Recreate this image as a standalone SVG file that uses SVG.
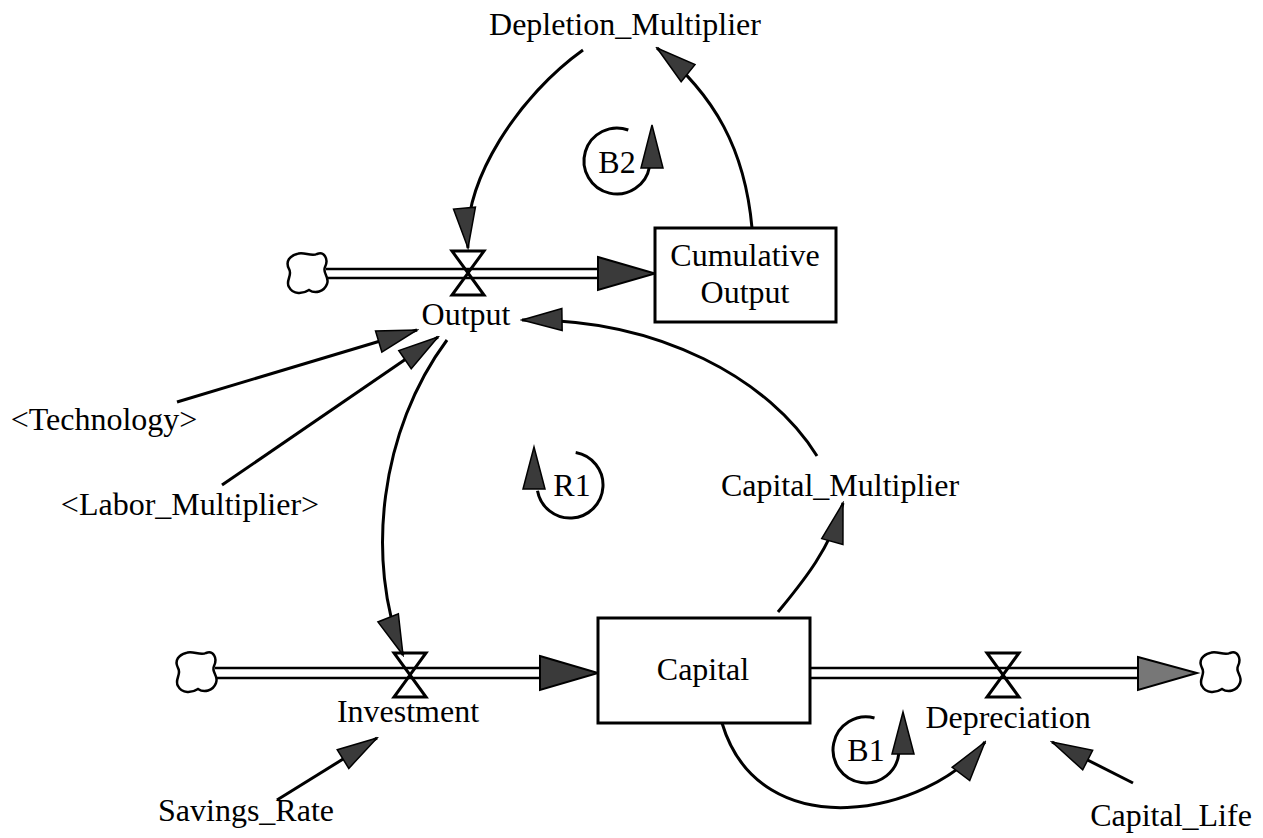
<svg xmlns="http://www.w3.org/2000/svg" width="1263" height="838" viewBox="0 0 1263 838">
<style>
text{font-family:"Liberation Serif","Times New Roman",serif;font-size:32px;fill:#000}
.lnk{fill:none;stroke:#000;stroke-width:3}
.pipe{stroke:#000;stroke-width:2.5}
.valve{fill:none;stroke:#000;stroke-width:3;stroke-linejoin:miter}
.box{fill:#fff;stroke:#000;stroke-width:3}
.ah{fill:#3a3a3a;stroke:#000;stroke-width:1.5}
.fah{fill:#3a3a3a;stroke:#000;stroke-width:2}
.cloud{fill:#fff;stroke:#000;stroke-width:2.5}
.loop{fill:none;stroke:#000;stroke-width:3}
</style>
<defs>
<marker id="arr" viewBox="-42 -13 44 26" refX="0" refY="0" markerWidth="44" markerHeight="26" markerUnits="userSpaceOnUse" orient="auto">
<path d="M0,0 L-40,-11 L-40,11 Z" class="ah"/>
</marker>
<path id="cloudShape" d="M-10,-19 C-4,-22 4,-16 10,-19 C17,-22 22,-14 18,-6 C15,0 23,4 20,11 C17,19 8,21 2,17 C-4,21 -14,22 -18,14 C-22,8 -14,2 -18,-4 C-22,-12 -17,-17 -10,-19 Z"/>
<path id="valveShape" d="M-16,-22 L16,-22 L0,0 Z M0,0 L16,22 L-16,22 Z"/>
</defs>
<rect width="1263" height="838" fill="#fff"/>

<g id="connectors">
<line class="pipe" x1="326" y1="269" x2="600" y2="269"/>
<line class="pipe" x1="326" y1="278" x2="600" y2="278"/>
<path class="fah" d="M598,257 L655,273.5 L598,290 Z"/>
<line class="pipe" x1="215" y1="668" x2="542" y2="668"/>
<line class="pipe" x1="215" y1="678" x2="542" y2="678"/>
<path class="fah" d="M540,656 L598,673 L540,690 Z"/>
<line class="pipe" x1="810" y1="668" x2="1140" y2="668"/>
<line class="pipe" x1="810" y1="678" x2="1140" y2="678"/>
<path class="fah" d="M1138,657 L1197,673 L1138,690 Z" style="fill:#777"/>
<path class="lnk" d="M583,50 C520,95 462,180 468,248" marker-end="url(#arr)"/>
<path class="lnk" d="M752,228 C745,150 715,95 657,48" marker-end="url(#arr)"/>
<path class="lnk" d="M817,456 C770,380 660,318 522,320" marker-end="url(#arr)"/>
<path class="lnk" d="M447,340 C380,430 365,560 403,655" marker-end="url(#arr)"/>
<path class="lnk" d="M177,402 L417,330" marker-end="url(#arr)"/>
<path class="lnk" d="M222,485 L438,337" marker-end="url(#arr)"/>
<path class="lnk" d="M778,612 C800,585 830,550 843,503" marker-end="url(#arr)"/>
<path class="lnk" d="M277,800 L377,738" marker-end="url(#arr)"/>
<path class="lnk" d="M722,723 C760,850 930,815 985,742" marker-end="url(#arr)"/>
<path class="lnk" d="M1133,783 L1052,742" marker-end="url(#arr)"/>
</g>

<g id="cloud_output_source"><use href="#cloudShape" class="cloud" transform="translate(307,273)"/></g>
<g id="cloud_investment_source"><use href="#cloudShape" class="cloud" transform="translate(196,672)"/></g>
<g id="cloud_depreciation_sink"><use href="#cloudShape" class="cloud" transform="translate(1220,672)"/></g>

<g id="Cumulative_Output">
<rect class="box" x="655" y="228" width="181" height="94"/>
<text x="745" y="266" text-anchor="middle">Cumulative</text>
<text x="745" y="303" text-anchor="middle">Output</text>
</g>

<g id="Capital">
<rect class="box" x="598" y="618" width="212" height="105"/>
<text x="703" y="680" text-anchor="middle">Capital</text>
</g>

<g id="Output">
<use href="#valveShape" class="valve" transform="translate(468,273)"/>
<text x="466" y="325" text-anchor="middle">Output</text>
</g>

<g id="Investment">
<use href="#valveShape" class="valve" transform="translate(410,675)"/>
<text x="408" y="722" text-anchor="middle">Investment</text>
</g>

<g id="Depreciation">
<use href="#valveShape" class="valve" transform="translate(1003,675)"/>
<text x="1008" y="728" text-anchor="middle">Depreciation</text>
</g>

<g id="Depletion_Multiplier"><text x="625" y="35" text-anchor="middle">Depletion_Multiplier</text></g>
<g id="Capital_Multiplier"><text x="840" y="496" text-anchor="middle">Capital_Multiplier</text></g>
<g id="Technology"><text x="104" y="430" text-anchor="middle">&lt;Technology&gt;</text></g>
<g id="Labor_Multiplier"><text x="190" y="515" text-anchor="middle">&lt;Labor_Multiplier&gt;</text></g>
<g id="Savings_Rate"><text x="246" y="821" text-anchor="middle">Savings_Rate</text></g>
<g id="Capital_Life"><text x="1171" y="826" text-anchor="middle">Capital_Life</text></g>

<g id="loop_B2">
<path class="loop" d="M628.3,130 A33,33 0 1 0 649.5,166.7"/>
<path class="ah" d="M652,125 L641,168 L663,168 Z"/>
<text x="617" y="173" text-anchor="middle">B2</text>
</g>
<g id="loop_R1">
<path class="loop" d="M575.7,452.5 A33,33 0 1 1 537.5,490.7"/>
<path class="ah" d="M534,447 L523,489 L545,489 Z"/>
<text x="572" y="496" text-anchor="middle">R1</text>
</g>
<g id="loop_B1">
<path class="loop" d="M874.5,718 A33,33 0 1 0 898.9,752.9"/>
<path class="ah" d="M903,712 L892,754 L914,754 Z"/>
<text x="866" y="761" text-anchor="middle">B1</text>
</g>
</svg>
